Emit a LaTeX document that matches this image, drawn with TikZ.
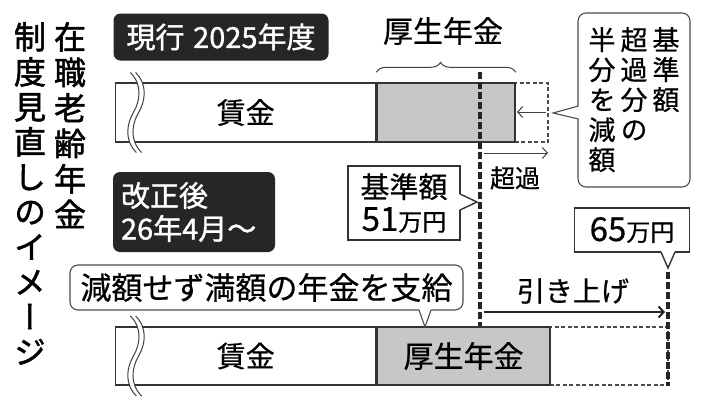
\documentclass[tikz,border=0pt]{standalone}
\usepackage{fontspec}
\setmainfont{Noto Sans CJK JP}[FakeBold=0.6]
\newfontfamily\tatefont[RawFeature=+vert,FakeBold=1.6]{Noto Sans CJK JP}
\newfontfamily\kyoufont[FakeBold=1.2]{Noto Sans CJK JP}
\newfontfamily\tatehoso[RawFeature=+vert,FakeBold=0.6]{Noto Sans CJK JP}
\usetikzlibrary{arrows.meta,positioning,decorations.pathreplacing}
\newcommand\jsize[2]{\fontsize{#1}{#2}\selectfont}

\tikzset{
	kuroban/.style={fill=black!85,text=white,rounded corners=7pt,inner sep=0pt},
	waku/.style={draw=black!80,line width=1.4pt,fill=white,inner sep=0pt},
	fukidashi/.style={draw=black!70,line width=1.1pt,fill=white,rounded corners=8pt,inner sep=0pt},
	bou/.style={draw=black!80,line width=1.4pt,minimum height=59pt,inner sep=0pt,anchor=west},
	tensen/.style={draw=black!70,line width=1.1pt,dash pattern=on 4pt off 2.5pt},
	kijunsen/.style={black!85,line width=3.5pt,dash pattern=on 7pt off 3pt},
	tatejiku/.style={font=\tatehoso\jsize{27}{30},align=center,inner sep=0pt,anchor=north},
	namisen/.pic={
		\draw[white,line width=5pt] (-3,-40) .. controls (9,-28) and (7,-12) .. (0,0) .. controls (-7,12) and (-9,28) .. (3,40);
		\foreach \dx in {-2.6,2.6}
			\draw[black!75,line width=1pt,xshift=\dx pt] (-3,-40) .. controls (9,-28) and (7,-12) .. (0,0) .. controls (-7,12) and (-9,28) .. (3,40);
	},
}

\begin{document}
\begin{tikzpicture}[x=1pt,y=-1pt,>={Straight Barb[length=5pt,width=11pt]}]
	\useasboundingbox (0,0) rectangle (706,400);

	\node[font=\tatefont\jsize{32}{35.5},align=center,inner sep=0pt,anchor=north] (title1) at (70,22) {在\\職\\老\\齢\\年\\金};
	\node[font=\tatefont\jsize{32}{35},align=center,inner sep=0pt,anchor=north] (title2) at (30,22) {制\\度\\見\\直\\し\\の\\イ\\メ\\ー\\ジ};

	\node[kuroban,font=\kyoufont\jsize{29}{29},minimum width=215pt,minimum height=47pt] (genko) at (221,37) {現行\hspace{0.3em}2025年度};

	\begin{scope}
		\draw[tensen] (513,83) -- (548,83) -- (548,142) -- (513,142);
		\node[bou,minimum width=260pt,font=\jsize{29}{29}] (chingin1) at (115,112.5) {賃金};
		\node[bou,minimum width=138pt,fill=black!22] (kosei1) at (chingin1.east) {};
		\pic at (136,112.5) {namisen};
		\draw[black!75,line width=1pt,decorate,decoration={brace,amplitude=10pt,raise=10pt,aspect=0.46}] (kosei1.north west) -- (kosei1.north east);
		\node[font=\jsize{30}{30}] (kosei1 label) at (443,31) {厚生年金};
	\end{scope}

	\coordinate (kijun top) at (480,72);
	\coordinate (kijun bottom) at (480,330);
	\draw[kijunsen] (kijun top) -- (kijun bottom);

	\coordinate (cut end) at (546,112);
	\coordinate (gen tip) at (517,112);
	\draw[->,black!75,line width=1pt] (cut end) -- (gen tip);
	\coordinate (choka start) at (484,153);
	\coordinate (choka end) at (548,153);
	\draw[->,black!75,line width=1pt] (choka start) -- (choka end);
	\node[font=\jsize{25}{25}] (choka) at (515,178) {超過};

	\node[fukidashi,minimum width=112pt,minimum height=174pt] (gengaku) at (634,100) {};
	\path[fill=white] (579,106) -- (553,113) -- (579,119) -- cycle;
	\draw[black!70,line width=1.1pt] (578.5,106) -- (553,113) -- (578.5,119);
	\node[tatejiku] (gengaku1) at (666,27) {基\\準\\額};
	\node[tatejiku] (gengaku2) at (634,27) {超\\過\\分\\の};
	\node[tatejiku] (gengaku3) at (602,27) {半\\分\\を\\減\\額};

	\node[kuroban,font=\kyoufont\jsize{29}{33},align=left,minimum width=162pt,minimum height=80pt,text width=146pt] (kaisei) at (194,212) {改正後\\26年4月～};

	\node[waku,font=\jsize{29}{33},align=center,minimum width=112pt,minimum height=74pt] (kijun) at (404,203) {基準額\\{\jsize{33}{33}51}{\jsize{24}{24}万円}};
	\path[fill=white] (459,194) -- (477,202) -- (459,210) -- cycle;
	\draw[black!80,line width=1.4pt] (460,194) -- (477,202) -- (460,210);

	\node[waku,font=\jsize{33}{33},minimum width=115pt,minimum height=44pt] (joushou) at (632,230) {65{\jsize{24}{24}万円}};
	\path[fill=white] (661,251) -- (668,268) -- (675,251) -- cycle;
	\draw[black!80,line width=1.4pt] (661,252) -- (668,268) -- (675,252);

	\begin{scope}
		\draw[tensen] (548,327) -- (668,327) -- (668,385) -- (548,385);
		\node[bou,minimum width=260pt,minimum height=58pt,font=\jsize{29}{29}] (chingin2) at (115,356) {賃金};
		\node[bou,minimum width=173pt,minimum height=58pt,fill=black!22,font=\jsize{30}{30}] (kosei2) at (chingin2.east) {厚生年金};
		\pic at (136,356) {namisen};
	\end{scope}

	\node[fukidashi,font=\jsize{31}{31},minimum width=393pt,minimum height=45pt] (mangaku) at (266.5,287.5) {減額せず満額の年金を支給};
	\path[fill=white] (419,309) -- (425,327) -- (431,309) -- cycle;
	\draw[black!70,line width=1.1pt] (419,310) -- (425,327) -- (431,310);

	\coordinate (new top) at (668,272);
	\coordinate (new bottom) at (668,386);
	\draw[kijunsen] (new top) -- (new bottom);
	\coordinate (hikiage start) at (484,312);
	\coordinate (hikiage end) at (665,312);
	\draw[->,black!85,line width=2pt] (hikiage start) -- (hikiage end);
	\node[font=\jsize{28}{28}] (hikiage) at (573,291) {引き上げ};
\end{tikzpicture}
\end{document}
